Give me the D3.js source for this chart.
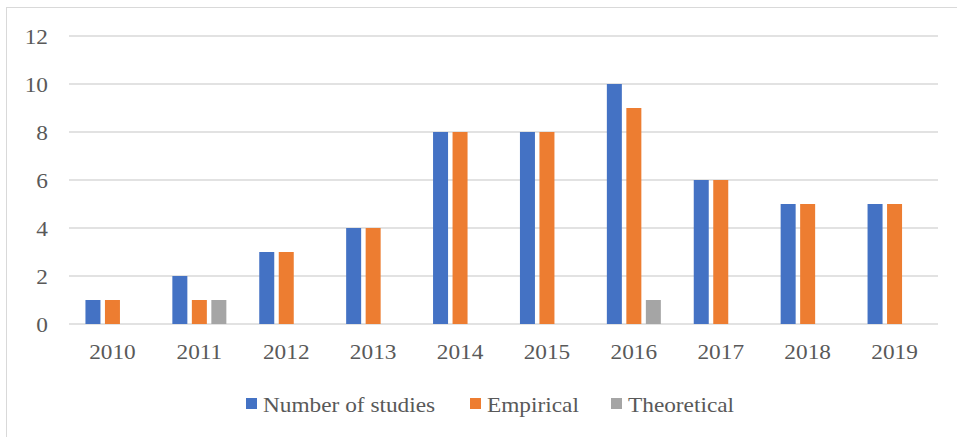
<!DOCTYPE html>
<html>
<head>
<meta charset="utf-8">
<script src="https://cdn.jsdelivr.net/npm/d3@7"></script>
<style>
  body { margin: 0; background: #fff; }
</style>
</head>
<body>
<div id="chart"></div>
<script>
const years = ['2010', '2011', '2012', '2013', '2014', '2015', '2016', '2017', '2018', '2019'];
const numberOfStudies = [1, 2, 3, 4, 8, 8, 10, 6, 5, 5];
const empirical = [1, 1, 3, 4, 8, 8, 9, 6, 5, 5];
const theoretical = [0, 1, 0, 0, 0, 0, 1, 0, 0, 0];
const yTicks = [0, 2, 4, 6, 8, 10, 12];

const seriesNames = ['Number of studies', 'Empirical', 'Theoretical'];
const seriesColors = ['#4472c4', '#ed7d31', '#a5a5a5'];
const seriesValues = [numberOfStudies, empirical, theoretical];

const FONT = 'Liberation Serif';
const TEXT_COLOR = '#595959';
const STRETCH = 'scale(1.11,1)'; // the original text is a bit wider than it is tall
const width = 957, height = 437;
const margin = { left: 69, right: 19, top: 36, bottom: 113 };

const svg = d3.select('#chart')
  .append('svg')
  .attr('width', width)
  .attr('height', height);

// chart area border
svg.append('rect')
  .attr('x', 6.5)
  .attr('y', 7.5)
  .attr('width', 970)
  .attr('height', 450)
  .attr('fill', 'none')
  .attr('stroke', '#d9d9d9')
  .attr('stroke-width', 1);

const x = d3.scaleBand()
  .domain(years)
  .range([margin.left, width - margin.right]);

const y = d3.scaleLinear()
  .domain([0, 12])
  .range([height - margin.bottom, margin.top]);

const barWidth = 15;
const barStep = 19.5;
const inner = d3.scaleBand()
  .domain(d3.range(3))
  .range([-barStep * 1.5, barStep * 1.5]);

// gridlines
svg.append('g')
  .selectAll('line')
  .data(yTicks)
  .join('line')
  .attr('x1', margin.left)
  .attr('x2', width - margin.right)
  .attr('y1', d => y(d))
  .attr('y2', d => y(d))
  .attr('stroke', '#d9d9d9')
  .attr('stroke-width', 1.5);

function styleText(sel) {
  sel.attr('font-family', FONT)
    .style('font-family', FONT)
    .style('font-size', '21px')
    .attr('fill', TEXT_COLOR);
}

// y labels
const yAxis = d3.axisLeft(y).tickValues(yTicks).tickSize(0).tickPadding(0);
const yg = svg.append('g')
  .attr('transform', `translate(48,0)`)
  .call(yAxis)
  .attr('font-family', FONT);
yg.select('.domain').remove();
yg.selectAll('text')
  .call(styleText)
  .attr('x', 0)
  .attr('dy', '0.34em')
  .attr('transform', STRETCH);

// x labels
const xAxis = d3.axisBottom(x).tickSize(0).tickPadding(0);
const xg = svg.append('g')
  .attr('transform', `translate(0,${y(0)})`)
  .call(xAxis)
  .attr('font-family', FONT);
xg.select('.domain').remove();
xg.selectAll('text')
  .call(styleText)
  .attr('y', 35.5)
  .attr('dy', 0)
  .attr('transform', STRETCH);

// bars
const groups = svg.append('g')
  .selectAll('g')
  .data(years)
  .join('g')
  .attr('transform', d => `translate(${x(d) + x.bandwidth() / 2},0)`);

groups.selectAll('rect')
  .data((d, i) => seriesValues.map((vals, s) => ({ s, v: vals[i] })).filter(e => e.v > 0))
  .join('rect')
  .attr('x', d => inner(d.s) + (inner.bandwidth() - barWidth) / 2)
  .attr('width', barWidth)
  .attr('y', d => y(d.v))
  .attr('height', d => y(0) - y(d.v))
  .attr('fill', d => seriesColors[d.s]);

// legend
const legendItems = [
  { name: seriesNames[0], color: seriesColors[0], x: 246 },
  { name: seriesNames[1], color: seriesColors[1], x: 470 },
  { name: seriesNames[2], color: seriesColors[2], x: 611 }
];
const legend = svg.append('g')
  .selectAll('g')
  .data(legendItems)
  .join('g')
  .attr('transform', d => `translate(${d.x},398)`);
legend.append('rect')
  .attr('width', 11)
  .attr('height', 11)
  .attr('fill', d => d.color);
legend.append('g')
  .attr('transform', 'translate(17,13.5)')
  .append('text')
  .call(styleText)
  .attr('transform', STRETCH)
  .text(d => d.name);
</script>
</body>
</html>
